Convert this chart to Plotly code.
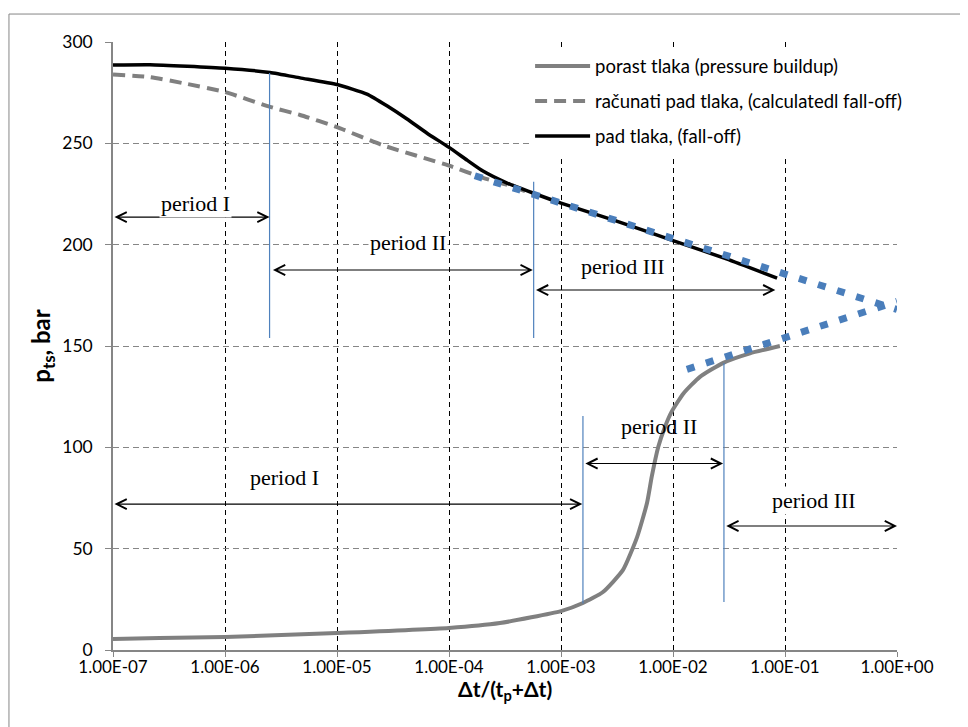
import math
import plotly.graph_objects as go

# ---------------- data ----------------
x_ticks = [1e-7, 1e-6, 1e-5, 1e-4, 1e-3, 1e-2, 1e-1, 1e0]
x_tick_labels = ["1.00E-07", "1.00E-06", "1.00E-05", "1.00E-04",
                 "1.00E-03", "1.00E-02", "1.00E-01", "1.00E+00"]
y_ticks = [0, 50, 100, 150, 200, 250, 300]

x_title = "<b>Δt/(t<sub>p</sub>+Δt)</b>"
y_title = "<b>p<sub>ts</sub>, bar</b>"

series_names = ["porast tlaka (pressure buildup)",
                "računati pad tlaka, (calculatedl fall-off)",
                "pad tlaka, (fall-off)"]

buildup_x = [1e-7, 2.6e-7, 1e-6, 1e-5, 1e-4, 2.85e-4, 1e-3, 1.57e-3, 2.37e-3,
             3.58e-3, 4.78e-3, 5.86e-3, 6.46e-3, 7.39e-3, 8.49e-3, 9.73e-3,
             1.24e-2, 1.74e-2, 2.81e-2, 4.87e-2, 9.0e-2]
buildup_y = [5.4, 5.9, 6.4, 8.4, 10.9, 13.3, 19.2, 23.2, 28.6,
             39.5, 55.7, 72.5, 85.5, 100.3, 110.2, 117.6,
             126.6, 134.8, 141.7, 146.4, 150]

calc_x = [1e-7, 2.14e-7, 4.22e-7, 1e-6, 2.52e-6, 4.68e-6, 1e-5, 2.58e-5,
          1e-4, 2.01e-4, 3.3e-4, 5.62e-4]
calc_y = [284, 282.7, 279.7, 275.3, 268, 264, 258, 249,
          239, 233, 229.5, 225]

falloff_x = [1e-7, 2.14e-7, 1e-6, 2.52e-6, 4.68e-6, 1e-5, 1.85e-5, 2.79e-5,
             4.22e-5, 6.37e-5, 1e-4, 1.45e-4, 2.01e-4, 3.3e-4, 5.62e-4,
             1e-3, 3e-3, 1e-2, 3e-2, 8.5e-2]
falloff_y = [288.6, 288.8, 287, 285, 282.3, 279, 274.3, 268.5,
             262, 255, 248, 241.7, 236.3, 230.4, 225.5,
             220.5, 212, 202, 193, 183.5]

trend_upper_x = [1.7e-4, 1.0]
trend_upper_y = [234, 168]
trend_lower_x = [1.33e-2, 1.0]
trend_lower_y = [138.5, 172]

marker_x = [2.5e-6, 5.7e-4, 1.57e-3, 2.85e-2]
marker_y_low = [154, 154, 23, 23.7]
marker_y_high = [284.7, 231, 115.4, 141.6]

arrow_x_start = [1e-7, 2.6e-6, 5.8e-4, 1e-7, 1.6e-3, 2.9e-2]
arrow_x_end = [2.5e-6, 5.6e-4, 8.2e-2, 1.55e-3, 2.8e-2, 1.0]
arrow_y = [213.6, 187.5, 177.6, 72, 92, 61.2]

label_text = ["period I", "period II", "period III",
              "period I", "period II", "period III"]
label_x = [5.4e-7, 4.3e-5, 3.58e-3, 3.37e-6, 7.5e-3, 0.182]
label_y = [220.5, 201, 189, 85, 110.5, 74]

# ---------------- figure ----------------
GRAY = "#808080"
BLUE = "#4A7EBB"
AXIS = "#868686"

fig = go.Figure()

fig.add_trace(go.Scatter(x=buildup_x, y=buildup_y, mode="lines", name=series_names[0],
                         line=dict(color=GRAY, width=4, shape="spline", smoothing=0.5),
                         legendgroup="a"))
fig.add_trace(go.Scatter(x=calc_x, y=calc_y, mode="lines", name=series_names[1],
                         line=dict(color=GRAY, width=4, dash="12px,7px", shape="spline", smoothing=0.5),
                         legendgroup="b"))
fig.add_trace(go.Scatter(x=falloff_x, y=falloff_y, mode="lines", name=series_names[2],
                         line=dict(color="black", width=3.5, shape="spline", smoothing=0.5),
                         legendgroup="c"))
for tx, ty in [(trend_upper_x, trend_upper_y), (trend_lower_x, trend_lower_y)]:
    fig.add_trace(go.Scatter(x=tx, y=ty, mode="lines", showlegend=False,
                             line=dict(color=BLUE, width=7, dash="8px,12px")))
for mx, y0, y1 in zip(marker_x, marker_y_low, marker_y_high):
    fig.add_trace(go.Scatter(x=[mx, mx], y=[y0, y1], mode="lines", showlegend=False,
                             line=dict(color="#4F81BD", width=1.2)))

# arrows
for xs, xe, ay in zip(arrow_x_start, arrow_x_end, arrow_y):
    fig.add_annotation(x=math.log10(xe), y=ay, ax=math.log10(xs), ay=ay,
                       xref="x", yref="y", axref="x", ayref="y", text="",
                       showarrow=True, arrowhead=5, startarrowhead=5,
                       arrowside="end+start", arrowwidth=1.1, arrowsize=1.8,
                       startarrowsize=1.8, arrowcolor="black", standoff=0, startstandoff=0)

# period labels
with_bg = {0, 1, 2, 5}
for i, (t, lx, ly) in enumerate(zip(label_text, label_x, label_y)):
    fig.add_annotation(x=math.log10(lx), y=ly, xref="x", yref="y", text=t,
                       showarrow=False,
                       font=dict(family="Liberation Serif", size=22, color="black"),
                       bgcolor="white" if i in with_bg else "rgba(0,0,0,0)")

# x-axis title (placed as text just under the tick labels)
fig.add_annotation(x=0.5, y=-0.0658, xref="paper", yref="paper", text=x_title,
                   showarrow=False, xanchor="center", yanchor="middle",
                   font=dict(family="Lato", size=21, color="black"))

# outer chart border (extends past the image on the right/bottom)
fig.add_shape(type="line", xref="paper", yref="paper", x0=-0.1327, x1=1.2,
              y0=1.046, y1=1.046, line=dict(color=AXIS, width=1))
fig.add_shape(type="line", xref="paper", yref="paper", x0=-0.1327, x1=-0.1327,
              y0=1.046, y1=-0.25, line=dict(color=AXIS, width=1))

fig.update_layout(
    width=968, height=727, autosize=False,
    margin=dict(l=105, r=79, t=34, b=85),
    paper_bgcolor="white", plot_bgcolor="white",
    font=dict(family="Lato", color="black"),
    legend=dict(x=0.532, y=0.991, xanchor="left", yanchor="top",
                bgcolor="white", borderwidth=0, itemwidth=55,
                tracegroupgap=8, font=dict(family="Lato", size=18.5, color="black")),
    xaxis=dict(type="log", range=[-7, 0], tickmode="array", tickvals=x_ticks,
               ticktext=x_tick_labels, showgrid=True, gridcolor="black",
               griddash="5px,4px", gridwidth=1, showline=True, linecolor=AXIS,
               linewidth=1.5, ticks="outside", ticklen=5, tickcolor=AXIS,
               tickfont=dict(family="Lato", size=17, color="black"), zeroline=False,
               ticklabelstandoff=-4),
    yaxis=dict(range=[0, 300], tickmode="array", tickvals=y_ticks, showgrid=True,
               gridcolor=AXIS, griddash="6px,4px", gridwidth=1, showline=True,
               linecolor=AXIS, linewidth=1.5, ticks="outside", ticklen=6,
               tickcolor=AXIS, tickfont=dict(family="Lato", size=17.5, color="black"),
               ticklabelstandoff=9, zeroline=False,
               title=dict(text=y_title,
                          font=dict(family="Lato", size=24, color="black"), standoff=5)),
)

fig.write_html("out.html")
